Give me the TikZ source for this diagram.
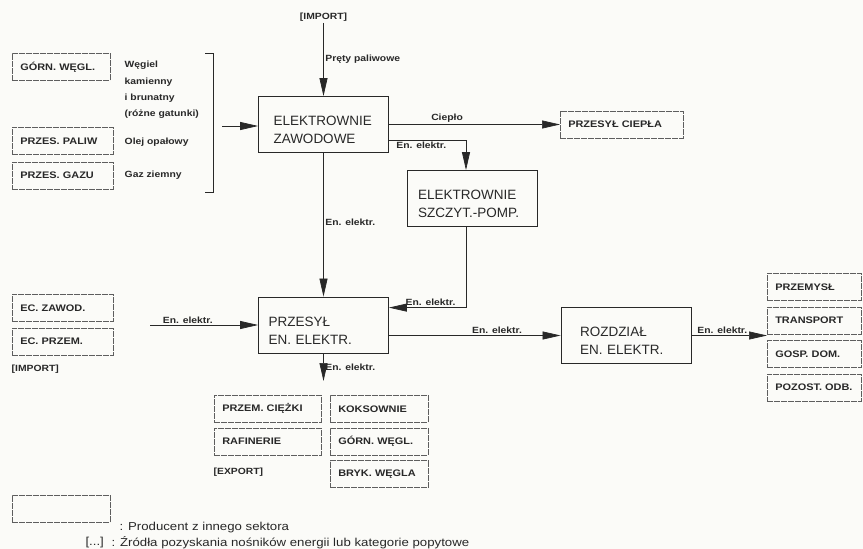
\documentclass[tikz,border=0pt]{standalone}
\usepackage{fontspec}
\setmainfont{Liberation Sans}
\newfontfamily\narrowfont[FakeStretch=1.15]{Liberation Sans}
\usetikzlibrary{arrows.meta, positioning}
\definecolor{paper}{RGB}{251,251,248}
\definecolor{ink}{RGB}{40,40,40}

\begin{document}
\begin{tikzpicture}[x=1pt, y=-1pt, >={Triangle[length=18pt, width=8pt]}, text=ink,
	box/.style	={draw=ink, line width=0.8pt, align=left, inner xsep=#1, text width=130pt-2*#1,
				  minimum height=56pt, text height=20pt, font=\fontsize{13.5}{18}\selectfont},
	box/.default=12pt,
	prod/.style	={draw=ink!75, line width=0.6pt, dash pattern=on 6pt off 1pt, align=left,
				  text width=#1, inner xsep=8pt, minimum height=27pt,
				  font=\narrowfont\bfseries\fontsize{9.5}{11}\selectfont},
	prod/.default=82pt,
	lbl/.style	={font=\narrowfont\bfseries\fontsize{9}{11}\selectfont, inner sep=1.5pt},
	flow/.style	={->, draw=ink, line width=0.7pt}]

	\fill[paper] (0,0) rectangle (863,549);
	\useasboundingbox (0,0) rectangle (863,549);

	\node[prod=82pt, anchor=north west]	(gw)	at (12,53)				{GÓRN. WĘGL.};
	\node[prod=85pt, anchor=north west]	(pp)	at (12,127)				{PRZES. PALIW};
	\node[prod=85pt]					(pg)	[below=7pt of pp]		{PRZES. GAZU};
	\node[lbl, anchor=west, align=left, font=\narrowfont\bfseries\fontsize{9}{16.3}\selectfont]
										(wg)	at (123,90)				{Węgiel\\kamienny\\i brunatny\\(różne gatunki)};
	\node[lbl, anchor=west]				(oo)	at (123,142)			{Olej opałowy};
	\node[lbl, anchor=west]				(gz)	at (123,175)			{Gaz ziemny};
	\draw[ink, line width=0.8pt] (205,53) -- (213,53) -- (213,192) -- (205,192);
	\coordinate							(br)	at (222,126);

	\node[lbl]							(imp)	at (323.5,17)			{[IMPORT]};
	\node[box=15pt]						(ez)	at (323.5,124.5)		{ELEKTROWNIE\\ZAWODOWE};
	\node[prod=107pt, anchor=west]		(pc)	at (560,124.5)			{PRZESYŁ CIEPŁA};
	\node[box=11pt]						(ss)	at (472,198.5)			{ELEKTROWNIE\\SZCZYT.-POMP.};
	\node[box=10pt]						(ps)	at (323.5,325)			{PRZESYŁ\\EN. ELEKTR.};
	\node[box=19pt]						(rz)	at (626,335.5)			{ROZDZIAŁ\\EN. ELEKTR.};

	\node[prod=85pt, anchor=north west]	(ecz)	at (12,294)				{EC. ZAWOD.};
	\node[prod=85pt]					(ecp)	[below=6pt of ecz]		{EC. PRZEM.};
	\node[lbl, anchor=west]				(impl)	at (10,369)				{[IMPORT]};
	\coordinate							(ecin)	at (150,325);

	\node[prod=78pt, anchor=north west]	(pm)	at (767,273)			{PRZEMYSŁ};
	\node[prod=78pt]					(tr)	[below=6pt of pm]		{TRANSPORT};
	\node[prod=78pt]					(gd)	[below=6pt of tr]		{GOSP. DOM.};
	\node[prod=78pt]					(po)	[below=6pt of gd]		{POZOST. ODB.};

	\coordinate							(dn)	at (323.5,381);
	\node[prod=91pt, anchor=north west]	(pcz)	at (214,395)			{PRZEM. CIĘŻKI};
	\node[prod=91pt]					(raf)	[below=5pt of pcz]		{RAFINERIE};
	\node[lbl, anchor=west]				(exp)	at (212,472)			{[EXPORT]};
	\node[prod=82pt, anchor=north west]	(kok)	at (330,395)			{KOKSOWNIE};
	\node[prod=82pt]					(gw2)	[below=5pt of kok]		{GÓRN. WĘGL.};
	\node[prod=82pt]					(bw)	[below=5pt of gw2]		{BRYK. WĘGLA};

	\node[prod=82pt, anchor=north west]	(leg)	at (12,495)				{};
	\node[anchor=west, font=\narrowfont\fontsize{11.5}{13}\selectfont]
										(legp)	at (116,528)			{: Producent z innego sektora};
	\node[anchor=west, font=\narrowfont\fontsize{11.5}{13}\selectfont]
										(legb)	at (82,543)				{[...]};
	\node[anchor=west, font=\narrowfont\fontsize{11.5}{13}\selectfont]
										(legz)	at (108,543)			{: Źródła pozyskania nośników energii lub kategorie popytowe};

	\path[->, every edge/.style={flow}]
	(imp)				edge	node[lbl, right, pos=0.49]	{Pręty paliwowe}	(ez)
	(br)				edge										(br -| ez.west)
	(ez)				edge	node[lbl, above, pos=0.34]	{Ciepło}			(pc)
						edge	node[lbl, right, pos=0.48]	{En. elektr.}		(ps)
	(ecin)				edge	node[lbl, above, pos=0.35]	{En. elektr.}		(ecin -| ps.west)
	(ps.east |- rz)		edge	node[lbl, above, pos=0.63]	{En. elektr.}		(rz)
	(rz)				edge	node[lbl, above, pos=0.41]	{En. elektr.}		(rz -| pm.west)
	(ps)				edge	node[lbl, right, pos=0.5]	{En. elektr.}		(dn)
	;
	\draw[flow] ([yshift=13pt]ez.south east) -| node[lbl, below, pos=0.21] {En. elektr.} ([xshift=-6pt]ss.north);
	\draw[flow] ([xshift=-6pt]ss.south) |- node[lbl, above, pos=0.73] {En. elektr.} ([yshift=-11pt]ps.north east);

\end{tikzpicture}
\end{document}
